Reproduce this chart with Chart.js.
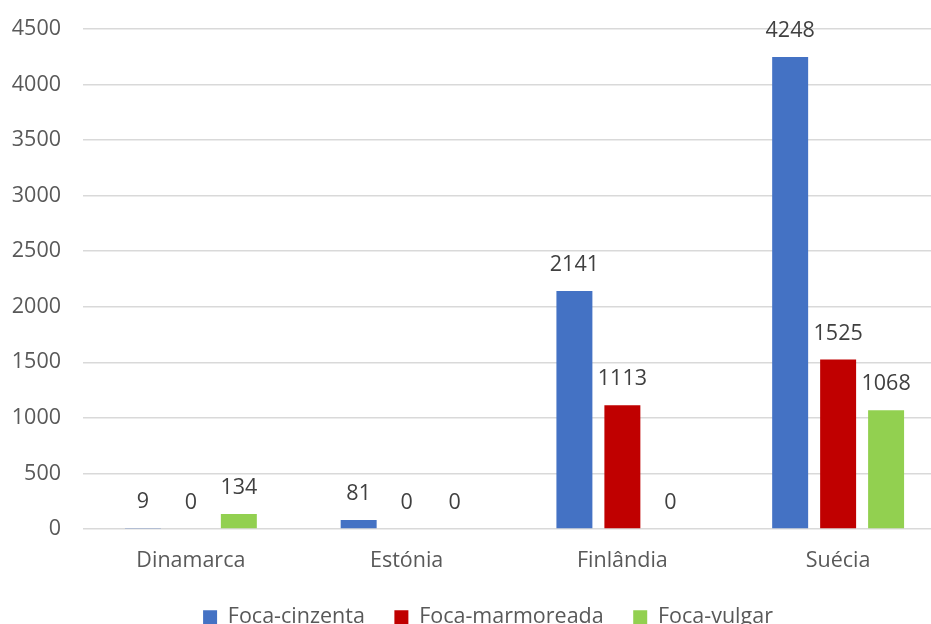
<!DOCTYPE html>
<html lang="pt">
<head>
<meta charset="utf-8">
<title>Focas por país</title>
<script src="https://cdn.jsdelivr.net/npm/chart.js@4/dist/chart.umd.min.js"></script>
<style>
  html, body { margin: 0; padding: 0; background: #ffffff; overflow: hidden; }
  #wrap { width: 931px; height: 624px; overflow: hidden; position: relative; }
  #chart { position: absolute; left: 0; top: 0; }
</style>
</head>
<body>
<div id="wrap"><canvas id="chart" width="976" height="638"></canvas></div>
<script>
// Países e contagens por espécie
const paises = ['Dinamarca', 'Estónia', 'Finlândia', 'Suécia'];
const focaCinzenta = [9, 81, 2141, 4248];
const focaMarmoreada = [0, 0, 1113, 1525];
const focaVulgar = [134, 0, 0, 1068];
const nomesSeries = ['Foca-cinzenta', 'Foca-marmoreada', 'Foca-vulgar'];
const coresSeries = ['#4472C4', '#C00000', '#92D050'];

const FONTE = '"Open Sans", "Noto Sans", sans-serif';
const TAM = 21.5;

// Escreve o valor de cada barra por cima dela
const rotulosValores = {
  id: 'rotulosValores',
  afterDatasetsDraw(chart) {
    const ctx = chart.ctx;
    ctx.save();
    ctx.font = TAM + 'px ' + FONTE;
    ctx.fillStyle = '#404040';
    ctx.textAlign = 'center';
    ctx.textBaseline = 'middle';
    chart.data.datasets.forEach((ds, i) => {
      const meta = chart.getDatasetMeta(i);
      meta.data.forEach((bar, j) => {
        ctx.fillText(String(ds.data[j]), bar.x, bar.y - 26);
      });
    });
    ctx.restore();
  }
};

const series = [focaCinzenta, focaMarmoreada, focaVulgar];

new Chart(document.getElementById('chart'), {
  type: 'bar',
  data: {
    labels: paises,
    datasets: series.map((valores, i) => ({
      label: nomesSeries[i],
      data: valores,
      backgroundColor: coresSeries[i],
      borderWidth: 0,
      categoryPercentage: 0.667,
      barPercentage: 0.75,
      yAxisID: 'y'
    }))
  },
  options: {
    responsive: false,
    devicePixelRatio: 1,
    animation: false,
    layout: { padding: { top: 29, left: 0, right: 0, bottom: 0 } },
    plugins: {
      legend: {
        position: 'bottom',
        labels: {
          boxWidth: 14,
          boxHeight: 14,
          padding: 29.5,
          color: '#595959',
          font: { family: FONTE, size: TAM }
        }
      },
      tooltip: { enabled: false }
    },
    scales: {
      x: {
        grid: { display: false, drawTicks: false },
        border: { display: false },
        ticks: {
          color: '#595959',
          padding: 19,
          font: { family: FONTE, size: TAM }
        },
        afterFit(scale) { scale.height = 48; }
      },
      y: {
        position: 'left',
        min: 0,
        max: 4500,
        grid: { color: '#d9d9d9', lineWidth: 1.5, drawTicks: false },
        border: { display: false },
        ticks: {
          stepSize: 500,
          color: '#595959',
          padding: 22,
          font: { family: FONTE, size: TAM },
          callback: (v) => String(v)
        },
        afterFit(scale) {
          scale.width = 83;
          scale.paddingTop = 0;
          scale.paddingBottom = 0;
        }
      },
      margem: {
        position: 'right',
        display: true,
        grid: { display: false, drawTicks: false },
        border: { display: false },
        ticks: { display: false },
        afterFit(scale) {
          scale.width = 30;
          scale.paddingTop = 0;
          scale.paddingBottom = 0;
        }
      }
    }
  },
  plugins: [rotulosValores]
});
</script>
</body>
</html>
